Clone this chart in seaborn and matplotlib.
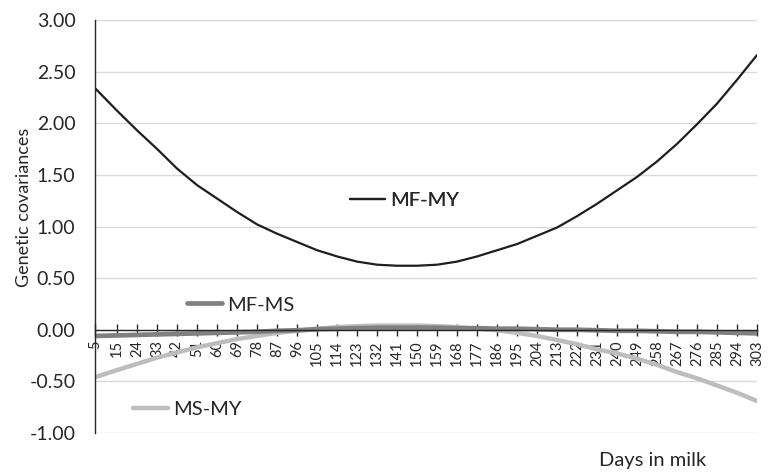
import pandas as pd
import matplotlib
matplotlib.use("Agg")
import matplotlib.pyplot as plt
import seaborn as sns

# Days in milk shown on the category axis
days = [5, 15, 24, 33, 42, 51, 60, 69, 78, 87, 96, 105, 114, 123, 132, 141, 150,
        159, 168, 177, 186, 195, 204, 213, 222, 231, 240, 249, 258, 267, 276, 285,
        294, 303]

# Genetic covariances
mf_my = [2.34, 2.12, 1.93, 1.75, 1.56, 1.40, 1.27, 1.14, 1.02, 0.93, 0.85, 0.77,
         0.71, 0.66, 0.63, 0.62, 0.62, 0.63, 0.66, 0.71, 0.77, 0.83, 0.91, 0.99,
         1.10, 1.22, 1.35, 1.48, 1.63, 1.80, 1.99, 2.19, 2.42, 2.66]
mf_ms = [-0.06, -0.055, -0.05, -0.045, -0.04, -0.035, -0.03, -0.025, -0.02, -0.01,
         -0.005, 0.005, 0.01, 0.015, 0.02, 0.02, 0.02, 0.02, 0.015, 0.015, 0.01,
         0.01, 0.005, 0.0, 0.0, -0.005, -0.01, -0.01, -0.015, -0.02, -0.02, -0.025,
         -0.03, -0.035]
ms_my = [-0.46, -0.39, -0.33, -0.27, -0.22, -0.17, -0.13, -0.09, -0.06, -0.03,
         -0.01, 0.01, 0.025, 0.035, 0.04, 0.04, 0.04, 0.035, 0.025, 0.01, -0.005,
         -0.03, -0.06, -0.10, -0.14, -0.19, -0.23, -0.28, -0.34, -0.41, -0.47,
         -0.54, -0.61, -0.69]

series_names = ["MS-MY", "MF-MS", "MF-MY"]
series_values = [ms_my, mf_ms, mf_my]
series_colors = ["#bdbdbd", "#808080", "#1e1e1e"]
series_widths = [3.2, 3.4, 1.6]
# where each series name + key sits (axes fraction)
label_pos = [(0.057, 0.058), (0.139, 0.310), (0.385, 0.562)]

sns.set_theme(style="white")
plt.rcParams["font.family"] = ["Lato", "DejaVu Sans"]
text_color = "#262626"

fig, ax = plt.subplots(figsize=(7.71, 4.74), dpi=100)
fig.subplots_adjust(left=0.1232, right=0.9818, bottom=0.0865, top=0.9578)

handles = []
for name, vals, col, lw in zip(series_names, series_values, series_colors, series_widths):
    sns.lineplot(x=days, y=vals, color=col, linewidth=lw, ax=ax, legend=False)
    handles.append(ax.lines[-1])

ax.set_xlim(days[0], days[-1])
ax.set_ylim(-1, 3)
ax.set_yticks([-1, -0.5, 0, 0.5, 1, 1.5, 2, 2.5, 3])
ax.set_yticklabels([f"{v:.2f}" for v in ax.get_yticks()])
ax.set_xticks(days)
ax.set_xticklabels([str(d) for d in days])

ax.grid(axis="y", color="#d9d9d9", linewidth=1)
ax.set_axisbelow(True)

# Excel style: category axis crosses at zero
ax.spines["top"].set_visible(False)
ax.spines["right"].set_visible(False)
ax.spines["bottom"].set_position(("data", 0))
ax.spines["bottom"].set_color(text_color)
ax.spines["left"].set_color(text_color)
ax.spines["bottom"].set_linewidth(1)
ax.spines["left"].set_linewidth(1)
ax.spines["bottom"].set_zorder(5)

ax.tick_params(axis="x", bottom=True, direction="inout", length=8, width=1,
               color=text_color, pad=3.5, labelsize=10.5, labelcolor=text_color,
               labelrotation=90)
ax.tick_params(axis="y", length=0, pad=14, labelsize=14, labelcolor=text_color)

ax.set_ylabel("Genetic covariances", fontsize=13, color=text_color)
ax.set_xlabel("Days in milk", fontsize=14.5, color=text_color)
ax.yaxis.set_label_coords(-0.095, 0.546)
ax.xaxis.set_label_coords(0.843, -0.045)

# series names as in-plot keys
for name, h, (fx, fy) in zip(series_names, handles, label_pos):
    leg = ax.legend([h], [name], loc="center left", bbox_to_anchor=(fx, fy),
                    frameon=False, borderpad=0, borderaxespad=0, handlelength=1.75,
                    handletextpad=0.25, fontsize=14.5, labelcolor=text_color)
    ax.add_artist(leg)

plt.savefig("out.png", dpi=100)
plt.close()
